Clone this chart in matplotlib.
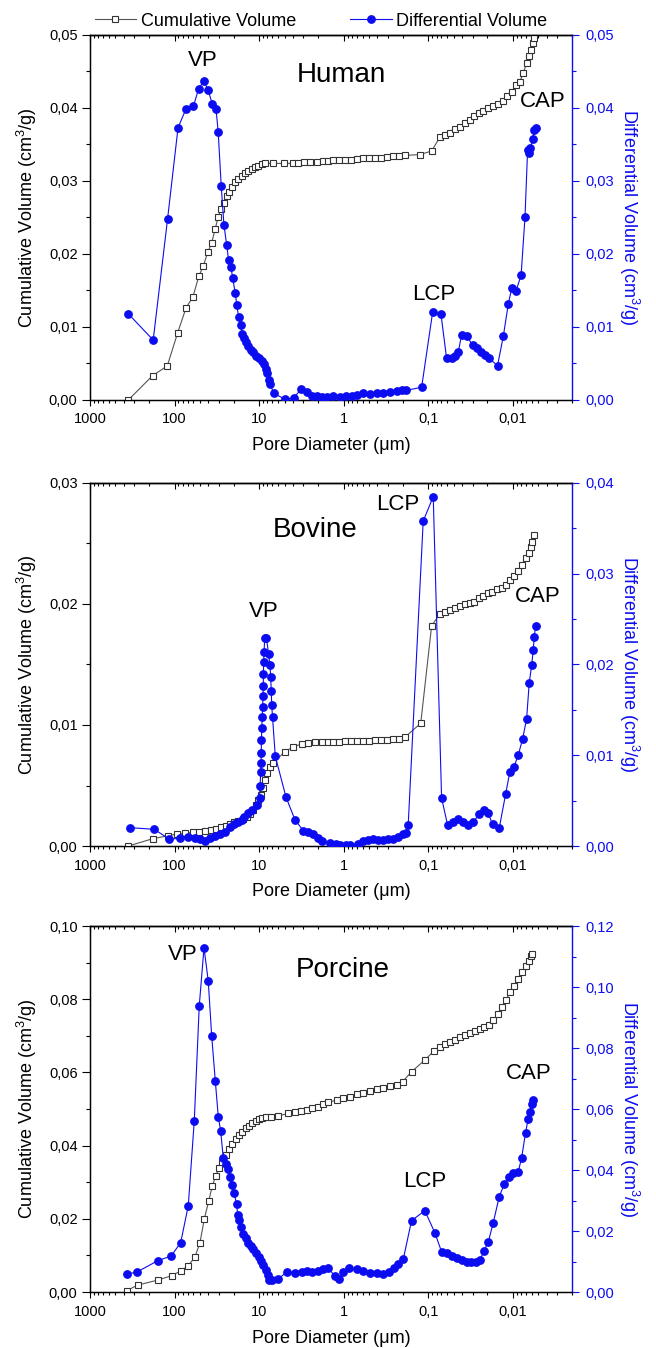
import numpy as np
import matplotlib
matplotlib.use("Agg")
import matplotlib.pyplot as plt
from matplotlib.ticker import FixedLocator, LogLocator, FuncFormatter, MultipleLocator, NullFormatter
from matplotlib.lines import Line2D

plt.rcParams['font.family'] = ['Liberation Sans', 'DejaVu Sans']
plt.rcParams['mathtext.default'] = 'regular'

# ---- Human ----
human_cum_d = [352, 182, 122, 92, 73, 61, 51.5, 45.8, 40.6, 36.5,
               33.0, 30.5, 28.3, 26.1, 24.2, 22.5, 21.0, 19.3, 17.7, 16.1,
               14.7, 13.5, 12.3, 11.2, 10.3, 9.3, 8.5, 6.8, 5.1, 4.0,
               3.45, 2.95, 2.51, 2.09, 1.77, 1.52, 1.34, 1.14, 0.97, 0.82,
               0.70, 0.59, 0.50, 0.43, 0.363, 0.308, 0.262, 0.223, 0.189, 0.126,
               0.0914, 0.0729, 0.0637, 0.0556, 0.0485, 0.0424, 0.0369, 0.0322, 0.0286, 0.0254,
               0.0224, 0.0196, 0.0171, 0.0149, 0.0132, 0.0119, 0.01035, 0.0092, 0.00827, 0.00755,
               0.00689, 0.00641, 0.00618, 0.00585, 0.00565, 0.00542]
human_cum_v = [0.0, 0.00333, 0.00466, 0.0092, 0.01265, 0.01406, 0.0170, 0.01835, 0.0202, 0.0215,
               0.02347, 0.0251, 0.0261, 0.0270, 0.0279, 0.0285, 0.0292, 0.0298, 0.0303, 0.0307,
               0.0311, 0.0314, 0.0316, 0.0319, 0.0321, 0.0323, 0.0324, 0.0324, 0.0324, 0.0324,
               0.0325, 0.0326, 0.0326, 0.0326, 0.0327, 0.0327, 0.0328, 0.0328, 0.0329, 0.0329,
               0.0330, 0.0331, 0.0331, 0.0332, 0.0332, 0.0333, 0.0334, 0.0334, 0.0335, 0.0336,
               0.0341, 0.0360, 0.0363, 0.0366, 0.0371, 0.0374, 0.0379, 0.0384, 0.0389, 0.0393,
               0.0396, 0.0400, 0.0403, 0.0406, 0.0409, 0.0416, 0.0422, 0.0432, 0.0436, 0.0448,
               0.0461, 0.0471, 0.0479, 0.0489, 0.0496, 0.0505]
human_diff_d = [352, 179, 121, 91, 73, 60, 52, 45, 40, 36,
                32.4, 30.5, 28.1, 26.1, 24.2, 23.0, 21.5, 20.6, 19.2, 18.4,
                17.5, 16.5, 16.0, 15.1, 14.3, 13.4, 12.6, 11.7, 10.9, 10.1,
                9.3, 8.8, 8.4, 8.0, 7.7, 7.45, 6.7, 4.95, 3.9, 3.2,
                2.75, 2.4, 2.09, 1.81, 1.58, 1.34, 1.11, 0.94, 0.80, 0.70,
                0.59, 0.49, 0.405, 0.344, 0.284, 0.235, 0.205, 0.184, 0.12, 0.089,
                0.071, 0.0608, 0.053, 0.0485, 0.0443, 0.0405, 0.0353, 0.030, 0.0269, 0.0241,
                0.0214, 0.0191, 0.0152, 0.0130, 0.01135, 0.01035, 0.0092, 0.0080, 0.0072, 0.0067,
                0.0064, 0.0062, 0.00585, 0.0056, 0.0054]
human_diff_v = [0.0118, 0.0082, 0.0248, 0.0373, 0.0399, 0.0402, 0.0426, 0.0437, 0.0424, 0.0406,
                0.0399, 0.0367, 0.0293, 0.0240, 0.0212, 0.0192, 0.0182, 0.0167, 0.0147, 0.0130,
                0.0114, 0.0102, 0.0091, 0.00845, 0.0080, 0.00744, 0.0069, 0.0065, 0.0060, 0.0057,
                0.0053, 0.0049, 0.0043, 0.0037, 0.0028, 0.0022, 0.0009, 0.0001, 0.0003, 0.00146,
                0.0011, 0.0006, 0.0005, 0.0004, 0.0004, 0.0005, 0.0004, 0.0005, 0.0006, 0.0007,
                0.0009, 0.0008, 0.0009, 0.0010, 0.0011, 0.0012, 0.0013, 0.0013, 0.00174, 0.0120,
                0.0118, 0.0057, 0.0058, 0.0060, 0.0065, 0.0089, 0.0088, 0.0075, 0.0071, 0.0066,
                0.0062, 0.0057, 0.0047, 0.0087, 0.0131, 0.0153, 0.0149, 0.0171, 0.0250, 0.0343,
                0.0338, 0.0345, 0.0357, 0.0370, 0.0373]

# ---- Bovine ----
bovine_cum_d = [352, 182, 119, 94.5, 75.4, 61.1, 51.1, 43.7, 37.4, 32.4,
                28.5, 24.9, 22.1, 19.9, 17.7, 15.7, 14.1, 12.8, 11.7, 10.9,
                10.25, 9.6, 9.1, 8.54, 8.02, 7.45, 6.81, 4.95, 3.95, 3.15,
                2.63, 2.19, 1.82, 1.52, 1.34, 1.14, 0.97, 0.82, 0.70, 0.59,
                0.50, 0.43, 0.363, 0.308, 0.262, 0.223, 0.189, 0.123, 0.0914, 0.0729,
                0.0637, 0.0556, 0.0485, 0.0424, 0.0369, 0.0322, 0.0286, 0.0252, 0.0224, 0.0199,
                0.0176, 0.0156, 0.0136, 0.0122, 0.01086, 0.00966, 0.00866, 0.00776, 0.00702, 0.00653,
                0.00618, 0.00592, 0.00565]
bovine_cum_v = [0.0, 0.0006, 0.00085, 0.00099, 0.00105, 0.00113, 0.00118, 0.00124, 0.00132, 0.0014,
                0.00154, 0.00165, 0.00182, 0.00196, 0.00209, 0.0022, 0.00242, 0.00264, 0.00298, 0.00339,
                0.0038, 0.0042, 0.00477, 0.00545, 0.0060, 0.00655, 0.00689, 0.0078, 0.0082, 0.00843,
                0.00854, 0.00862, 0.00862, 0.00862, 0.00862, 0.00863, 0.00864, 0.00866, 0.00867, 0.00869,
                0.00871, 0.00874, 0.00877, 0.0088, 0.00884, 0.00888, 0.0090, 0.01014, 0.0182, 0.0192,
                0.01936, 0.0195, 0.0197, 0.0198, 0.0200, 0.0201, 0.0202, 0.0205, 0.0207, 0.0209,
                0.0210, 0.0212, 0.0213, 0.0216, 0.0220, 0.0223, 0.0227, 0.0232, 0.0238, 0.0242,
                0.0247, 0.0251, 0.0257]
bovine_diff_d = [337, 174, 116, 86.3, 68.9, 57.4, 50.1, 43.7, 38.2, 33.3,
                 29.1, 25.4, 22.1, 19.7, 17.7, 16.1, 15.0, 13.6, 12.0, 10.5,
                 9.9, 9.75, 9.6, 9.5, 9.45, 9.4, 9.3, 9.2, 9.1, 9.0,
                 8.95, 8.9, 8.85, 8.75, 8.6, 8.2, 7.75, 7.45, 7.3, 7.2,
                 7.1, 6.95, 6.45, 4.82, 3.78, 3.01, 2.63, 2.29, 2.0, 1.82,
                 1.46, 1.25, 1.11, 0.95, 0.845, 0.674, 0.589, 0.513, 0.448, 0.391,
                 0.341, 0.298, 0.260, 0.227, 0.201, 0.184, 0.173, 0.115, 0.0875, 0.0697,
                 0.0592, 0.0508, 0.0443, 0.0387, 0.0343, 0.0295, 0.0252, 0.0220, 0.0196, 0.0174,
                 0.0145, 0.0122, 0.01086, 0.00973, 0.00866, 0.00768, 0.00689, 0.00641, 0.00601, 0.00575,
                 0.0056, 0.0054]
bovine_diff_v = [0.00202, 0.00184, 0.00077, 0.00084, 0.00103, 0.00092, 0.00077, 0.00059, 0.00092, 0.00114,
                 0.00132, 0.00158, 0.00206, 0.00242, 0.0026, 0.00287, 0.00323, 0.0036, 0.0040, 0.0045,
                 0.0053, 0.0066, 0.0081, 0.0091, 0.0102, 0.0117, 0.0130, 0.0142, 0.0153, 0.0165,
                 0.0176, 0.0190, 0.0203, 0.0214, 0.0229, 0.0229, 0.0212, 0.0199, 0.0186, 0.0171,
                 0.0155, 0.0142, 0.0099, 0.0054, 0.0029, 0.0017, 0.0015, 0.0013, 0.0009, 0.0006,
                 0.0003, 0.0002, 0.0001, 0.0001, 0.0001, 0.0002, 0.0005, 0.0007, 0.0008, 0.0007,
                 0.0007, 0.0008, 0.0008, 0.0010, 0.0013, 0.0014, 0.0023, 0.0358, 0.0385, 0.0053,
                 0.0023, 0.0027, 0.0030, 0.0026, 0.0023, 0.0026, 0.0035, 0.0040, 0.0036, 0.0024,
                 0.0020, 0.0057, 0.0082, 0.0087, 0.0100, 0.0118, 0.0140, 0.0180, 0.0199, 0.0216,
                 0.0230, 0.0242]

# ---- Porcine ----
porcine_cum_d = [368, 273, 156, 108, 84.0, 68.9, 57.4, 50.1, 44.6, 39.5,
                 35.8, 32.7, 29.9, 27.3, 24.9, 22.8, 20.8, 18.9, 17.3, 15.8,
                 14.4, 13.2, 12.1, 11.0, 10.0, 9.19, 8.38, 7.25, 6.04, 4.53,
                 3.78, 3.21, 2.75, 2.36, 2.04, 1.77, 1.52, 1.21, 1.01, 0.845,
                 0.705, 0.589, 0.490, 0.408, 0.341, 0.284, 0.237, 0.201, 0.158, 0.110,
                 0.0859, 0.0729, 0.0637, 0.0556, 0.0485, 0.0424, 0.0369, 0.0322, 0.0281, 0.0245,
                 0.0218, 0.0192, 0.0171, 0.0152, 0.0136, 0.0121, 0.01086, 0.00966, 0.00866, 0.00776,
                 0.00702, 0.00653, 0.00618, 0.00592]
porcine_cum_v = [0.0004, 0.0019, 0.0033, 0.0045, 0.0058, 0.0072, 0.0096, 0.0135, 0.0199, 0.0249,
                 0.0290, 0.0317, 0.0338, 0.0356, 0.0374, 0.0390, 0.0404, 0.0417, 0.0429, 0.0438,
                 0.0447, 0.0454, 0.0461, 0.0467, 0.0472, 0.0475, 0.0477, 0.0479, 0.0481, 0.0488,
                 0.0491, 0.0495, 0.0497, 0.0502, 0.0506, 0.0513, 0.0518, 0.0525, 0.0529, 0.0534,
                 0.0540, 0.0544, 0.0549, 0.0554, 0.0558, 0.0563, 0.0567, 0.0575, 0.0602, 0.0634,
                 0.0659, 0.0670, 0.0677, 0.0684, 0.0690, 0.0698, 0.0702, 0.0708, 0.0713, 0.0718,
                 0.0725, 0.0729, 0.0743, 0.0759, 0.0779, 0.0798, 0.0819, 0.0837, 0.0855, 0.0875,
                 0.0891, 0.0905, 0.0918, 0.0925]
porcine_diff_d = [368, 281, 158, 110, 84.7, 68.9, 58.5, 51.1, 44.9, 40.0,
                  36.4, 33.0, 30.4, 28.5, 26.6, 24.7, 23.2, 22.1, 20.8, 19.7,
                  18.5, 17.9, 17.2, 16.4, 15.4, 14.4, 13.5, 12.6, 11.7, 10.9,
                  10.1, 9.45, 8.95, 8.38, 7.94, 7.60, 7.11, 5.94, 4.66, 3.78,
                  3.15, 2.75, 2.36, 2.04, 1.75, 1.52, 1.27, 1.13, 1.01, 0.861,
                  0.705, 0.589, 0.490, 0.408, 0.341, 0.290, 0.253, 0.227, 0.198, 0.158,
                  0.110, 0.0836, 0.0697, 0.0608, 0.0531, 0.0463, 0.0404, 0.0352, 0.0314, 0.0276,
                  0.0245, 0.0220, 0.0196, 0.0171, 0.0145, 0.0127, 0.0111, 0.00993, 0.00866, 0.00789,
                  0.00708, 0.00659, 0.0063, 0.00601, 0.00575]
porcine_diff_v = [0.0059, 0.0065, 0.0103, 0.0118, 0.0162, 0.0283, 0.0562, 0.0938, 0.1129, 0.1020,
                  0.0839, 0.0692, 0.0573, 0.0528, 0.0440, 0.0419, 0.0402, 0.0378, 0.0351, 0.0324,
                  0.0288, 0.0252, 0.0236, 0.0214, 0.0192, 0.0176, 0.0162, 0.0151, 0.0140, 0.0129,
                  0.0116, 0.0103, 0.0089, 0.0072, 0.0056, 0.0039, 0.0039, 0.0043, 0.0067, 0.0063,
                  0.0067, 0.0070, 0.0065, 0.0070, 0.0074, 0.0078, 0.0052, 0.0042, 0.0065, 0.0078,
                  0.0074, 0.0070, 0.0063, 0.0061, 0.0059, 0.0067, 0.0078, 0.0092, 0.0107, 0.0234,
                  0.0267, 0.0194, 0.0132, 0.0127, 0.0118, 0.0111, 0.0105, 0.0099, 0.0097, 0.0097,
                  0.0105, 0.0135, 0.0163, 0.0227, 0.0313, 0.0353, 0.0378, 0.0389, 0.0394, 0.0440,
                  0.0523, 0.0569, 0.0591, 0.0615, 0.0630]

names = ['Human', 'Bovine', 'Porcine']
cum_d = [human_cum_d, bovine_cum_d, porcine_cum_d]
cum_v = [human_cum_v, bovine_cum_v, porcine_cum_v]
diff_d = [human_diff_d, bovine_diff_d, porcine_diff_d]
diff_v = [human_diff_v, bovine_diff_v, porcine_diff_v]
left_max = [0.05, 0.03, 0.10]
left_step = [0.01, 0.01, 0.02]
right_max = [0.05, 0.04, 0.12]
right_step = [0.01, 0.01, 0.02]

x_ticks = [1000, 100, 10, 1, 0.1, 0.01]
x_labels = ['1000', '100', '10', '1', '0,1', '0,01']

blue = '#0c0cf0'
grey = '#555555'

# axes rectangles in figure fraction (layout)
rects = [[0.1372, 0.7033, 0.7348, 0.2708],
         [0.1372, 0.3724, 0.7348, 0.2693],
         [0.1372, 0.0415, 0.7348, 0.2715]]

# label positions in axes fraction (name, VP, LCP, CAP)
text_pos = [
    [(0.521, 0.890), (0.233, 0.930), (0.714, 0.288), (0.940, 0.818)],
    [(0.467, 0.870), (0.361, 0.646), (0.639, 0.942), (0.928, 0.686)],
    [(0.525, 0.880), (0.193, 0.921), (0.695, 0.301), (0.911, 0.598)],
]

comma = FuncFormatter(lambda v, p: ('%.2f' % v).replace('.', ','))

fig = plt.figure(figsize=(6.56, 13.48), dpi=100)

for i in range(3):
    ax = fig.add_axes(rects[i])
    ax.set_xscale('log')
    ax.set_xlim(1000, 0.002)
    ax2 = ax.twinx()

    ax.plot(cum_d[i], cum_v[i], color=grey, lw=0.8, marker='s', ms=5,
            mfc='white', mec='#333333', mew=0.8, zorder=3)
    ax2.plot(diff_d[i], diff_v[i], color=blue, lw=0.8, marker='o', ms=5.3,
             mfc=blue, mec=blue, zorder=3)

    ax.set_ylim(0, left_max[i])
    ax2.set_ylim(0, right_max[i])

    ax.xaxis.set_major_locator(FixedLocator(x_ticks))
    ax.xaxis.set_major_formatter(FuncFormatter(lambda v, p: x_labels[x_ticks.index(v)] if v in x_ticks else ''))
    ax.xaxis.set_minor_locator(LogLocator(base=10, subs=np.arange(2, 10), numticks=30))
    ax.xaxis.set_minor_formatter(NullFormatter())
    ax.tick_params(axis='x', which='major', direction='out', length=4.5, width=0.8,
                   labelsize=10.5, pad=4.5, top=False)
    ax.tick_params(axis='x', which='minor', direction='out', length=2.5, width=0.8, top=False)

    sec = ax.secondary_xaxis('top')
    sec.set_xticks(x_ticks)
    sec.xaxis.set_minor_locator(LogLocator(base=10, subs=np.arange(2, 10), numticks=30))
    sec.tick_params(which='major', direction='in', length=4.5, width=0.8, labeltop=False)
    sec.tick_params(which='minor', direction='in', length=2.5, width=0.8)
    sec.spines['top'].set_linewidth(1.0)

    ax.yaxis.set_major_locator(MultipleLocator(left_step[i]))
    ax.yaxis.set_minor_locator(MultipleLocator(left_step[i] / 2))
    ax.yaxis.set_major_formatter(comma)
    ax.tick_params(axis='y', which='major', direction='out', length=5.5, width=0.8, labelsize=10.5)
    ax.tick_params(axis='y', which='minor', direction='out', length=3, width=0.8)

    ax2.yaxis.set_major_locator(MultipleLocator(right_step[i]))
    ax2.yaxis.set_minor_locator(MultipleLocator(right_step[i] / 2))
    ax2.yaxis.set_major_formatter(comma)
    ax2.tick_params(axis='y', which='major', direction='out', length=5, width=0.8,
                    labelsize=10.5, colors=blue, pad=4.5)
    ax2.tick_params(axis='y', which='minor', direction='out', length=3, width=0.8, colors=blue)

    ax.spines['right'].set_visible(False)
    ax2.spines['right'].set_color(blue)
    for s in ['left', 'bottom', 'top']:
        ax.spines[s].set_linewidth(1.0)
    ax2.spines['right'].set_linewidth(1.0)

    ax.set_xlabel('Pore Diameter (μm)', fontsize=13, va='center')
    ax.xaxis.set_label_coords(0.5, -0.126)
    ax.set_ylabel('Cumulative Volume (cm$^3$/g)', fontsize=13, va='center')
    ax.yaxis.set_label_coords(-0.131, 0.5)
    ax2.set_ylabel('Differential Volume (cm$^3$/g)', fontsize=13, color=blue,
                   rotation=270, va='center')
    ax2.yaxis.set_label_coords(1.118, 0.5)

    tp = text_pos[i]
    ax.text(tp[0][0], tp[0][1], names[i], transform=ax.transAxes, fontsize=20,
            ha='center', va='center')
    for lab, pos in zip(['VP', 'LCP', 'CAP'], tp[1:]):
        ax.text(pos[0], pos[1], lab, transform=ax.transAxes, fontsize=16,
                ha='center', va='center')

h1 = Line2D([], [], color=grey, lw=0.8, marker='s', ms=5, mfc='white', mec='#333333', mew=0.8)
h2 = Line2D([], [], color=blue, lw=0.8, marker='o', ms=5.3, mfc=blue, mec=blue)
fig.legend([h1, h2], ['Cumulative Volume', 'Differential Volume'], loc='center',
           bbox_to_anchor=(321 / 656, 1 - 21 / 1348), ncol=2, frameon=False, fontsize=13,
           handlelength=2.3, handletextpad=0.25, columnspacing=3.0)

fig.savefig('out.png', dpi=100)
